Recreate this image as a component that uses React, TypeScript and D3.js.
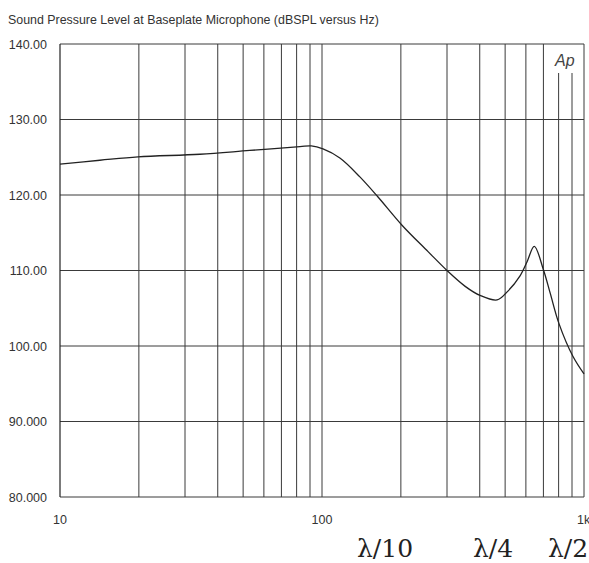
import React from "react";
import * as d3 from "d3";

const freqs = [10, 14.2, 19.85, 34.2, 53, 82.4, 91, 100.9, 117, 139.5, 163, 202, 254, 300, 352, 401, 466, 510, 570, 607, 646, 700, 743, 802, 908, 1000];
const spl = [124.1, 124.6, 125.05, 125.4, 125.9, 126.4, 126.5, 126.1, 124.9, 122.4, 119.8, 116, 112.5, 110, 107.9, 106.7, 106.1, 107.2, 109.3, 111.2, 113.2, 110.1, 107, 103, 98.6, 96.3];

const yTicks = [140, 130, 120, 110, 100, 90, 80];
const yTickLabels = ["140.00", "130.00", "120.00", "110.00", "100.00", "90.000", "80.000"];
const xTicks = [10, 100, 1000];
const xTickLabels = ["10", "100", "1k"];
const gridFreqs = [20, 30, 40, 50, 60, 70, 80, 90, 200, 300, 400, 500, 600, 700, 800, 900];
const shortGrid = [800, 900];
const lambdaLabels = ["λ/10", "λ/4", "λ/2"];
const lambdaX = [357, 473, 548];
const title = "Sound Pressure Level at Baseplate Microphone (dBSPL versus Hz)";

export default function App() {
  const left = 60, right = 584, top = 44, bottom = 497;
  const x = d3.scaleLog().domain([10, 1000]).range([left, right]);
  const y = d3.scaleLinear().domain([80, 140]).range([bottom, top]);
  const line = d3.line<number>()
    .x((_, i) => x(freqs[i]))
    .y((d) => y(d))
    .curve(d3.curveCatmullRom.alpha(0.5));
  const gridColor = "#3a3a3a";
  const font = "'Liberation Sans', Arial, sans-serif";
  return (
    <svg width={589} height={563} style={{ position: "absolute", left: 0, top: 0, background: "#fff" }}>
      <rect x={0} y={0} width={589} height={563} fill="#fff" />
      <text x={8} y={24} fontFamily={font} fontSize={12.4} fill="#333">{title}</text>
      {yTicks.map((t) => (
        <line key={"h" + t} x1={left} x2={right} y1={y(t)} y2={y(t)} stroke={gridColor} strokeWidth={1} />
      ))}
      {gridFreqs.map((f) => (
        <line key={"v" + f} x1={x(f)} x2={x(f)} y1={shortGrid.includes(f) ? 73 : top} y2={bottom} stroke={gridColor} strokeWidth={1} />
      ))}
      <line x1={left} x2={left} y1={top} y2={bottom} stroke="#222" strokeWidth={1.2} />
      <line x1={right} x2={right} y1={top} y2={bottom} stroke={gridColor} strokeWidth={1} />
      <line x1={x(100)} x2={x(100)} y1={top} y2={bottom} stroke={gridColor} strokeWidth={1} />
      {yTicks.map((t, i) => (
        <text key={"yl" + t} x={47} y={y(t) + 4.5} textAnchor="end" fontFamily={font} fontSize={12.5} fill="#333">{yTickLabels[i]}</text>
      ))}
      {xTicks.map((t, i) => (
        <text key={"xl" + t} x={i === 2 ? 577 : x(t)} y={524} textAnchor={i === 2 ? "start" : "middle"} fontFamily={font} fontSize={12.5} fill="#333">{xTickLabels[i]}</text>
      ))}
      <path d={line(spl) || ""} fill="none" stroke="#222" strokeWidth={1.3} />
      <text x={555} y={66} fontFamily={font} fontStyle="italic" fontSize={16} fill="#444">Ap</text>
      {lambdaLabels.map((l, i) => (
        <text key={l} x={lambdaX[i]} y={557} fontFamily="'DejaVu Serif', 'Liberation Serif', serif" fontSize={25} fill="#222">{l}</text>
      ))}
    </svg>
  );
}
